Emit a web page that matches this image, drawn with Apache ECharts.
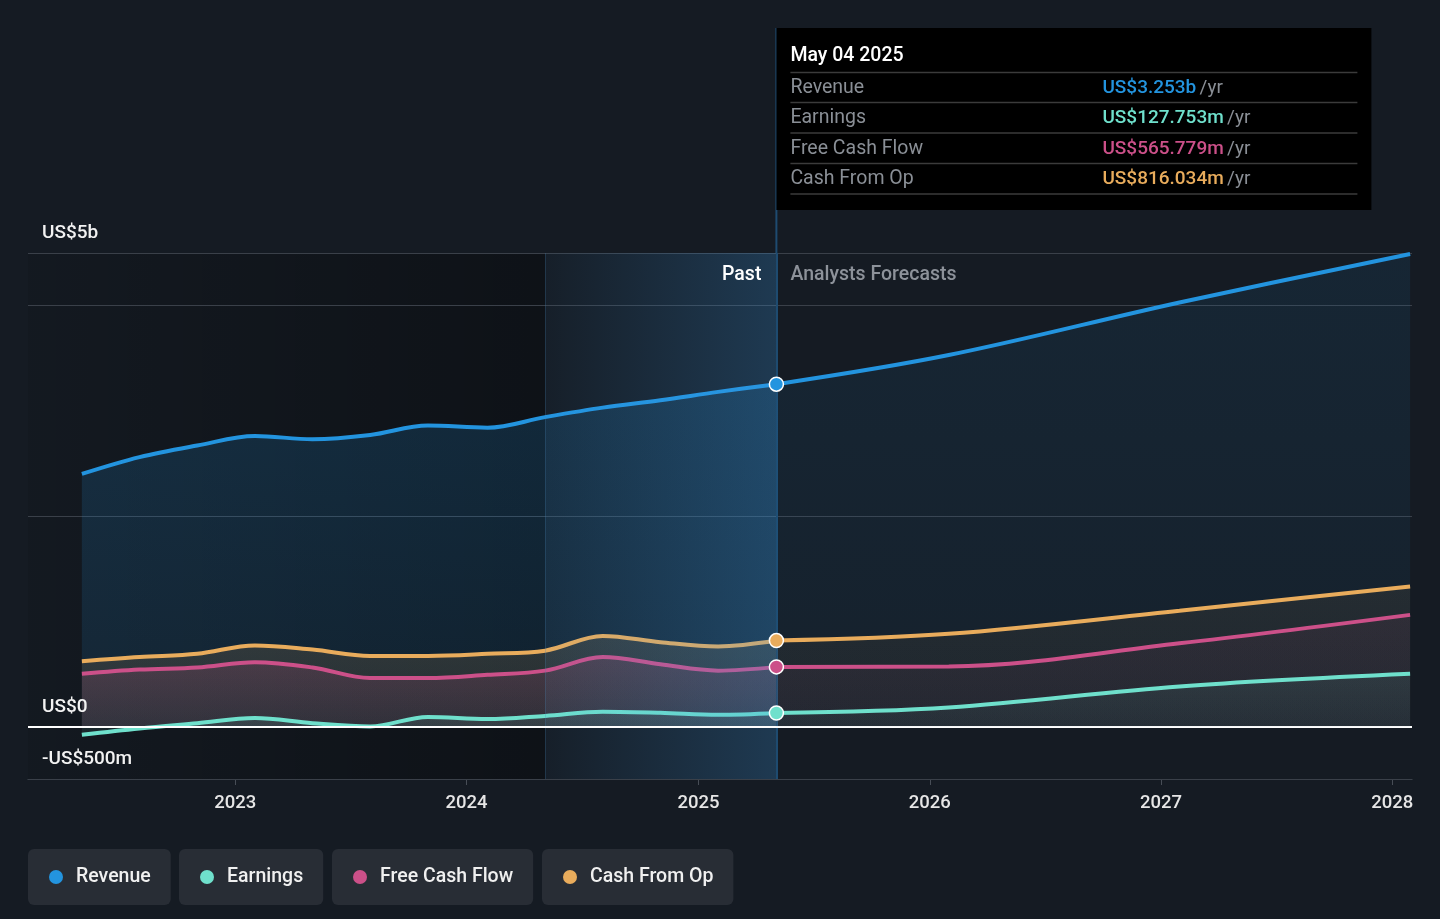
<!DOCTYPE html>
<html>
<head>
<meta charset="utf-8">
<script src="https://cdn.jsdelivr.net/npm/echarts@6/dist/echarts.min.js"></script>
<style>
  html, body { margin: 0; padding: 0; background: #151b23; }
  #chart { width: 1440px; height: 919px; }
</style>
</head>
<body>
<div id="chart"></div>
<script>
// ---------- DATA ----------
const seriesNames = ['Revenue', 'Earnings', 'Free Cash Flow', 'Cash From Op'];
const pastDates = ['2022-05-04','2022-08-03','2022-11-02','2023-02-01','2023-05-03','2023-08-02','2023-11-01','2024-02-03','2024-05-04','2024-08-03','2024-11-02','2025-02-01','2025-05-04'];
const forecastDates = ['2025-05-04','2026-01-31','2027-01-30','2028-01-29'];
const revenuePast  = [2.40, 2.56, 2.67, 2.76, 2.73, 2.77, 2.86, 2.84, 2.94, 3.03, 3.10, 3.18, 3.253];
const earningsPast = [-0.08, -0.02, 0.03, 0.08, 0.03, 0.00, 0.09, 0.07, 0.10, 0.14, 0.13, 0.11, 0.127753];
const fcfPast      = [0.50, 0.54, 0.56, 0.61, 0.56, 0.46, 0.46, 0.49, 0.53, 0.66, 0.59, 0.53, 0.565779];
const cfoPast      = [0.62, 0.66, 0.69, 0.77, 0.73, 0.67, 0.67, 0.69, 0.72, 0.86, 0.80, 0.76, 0.816034];
const revenueForecast  = [3.253, 3.53, 4.03, 4.49];
const earningsForecast = [0.127753, 0.18, 0.38, 0.50];
const fcfForecast      = [0.565779, 0.57, 0.79, 1.06];
const cfoForecast      = [0.816034, 0.88, 1.10, 1.33];
const xTickYears = ['2023','2024','2025','2026','2027','2028'];
const yTickValues = [-0.5, 0, 4.5];
const yTickLabels = ['-US$500m', 'US$0', 'US$5b'];
const yGridValues = [2, 4];
const xMinDate = '2022-02-08';
const xMaxDate = '2028-02-01';
const bandStartDate = '2024-05-04';
const splitDate = '2025-05-04';
const splitLabel = 'May 04 2025';
const Y_MIN = -0.5, Y_MAX = 4.5;

// ---------- STYLE ----------
const colors = { 'Revenue': '#2394df', 'Earnings': '#6fe0cc', 'Free Cash Flow': '#cc5089', 'Cash From Op': '#e9ac5c' };
const rgb = { 'Revenue': '35,148,223', 'Earnings': '111,224,204', 'Free Cash Flow': '204,80,137', 'Cash From Op': '233,172,92' };
const FONT = 'Roboto, "Noto Sans", sans-serif';
const ts = d => Date.UTC(+d.slice(0, 4), +(d.slice(5, 7) || 1) - 1, +(d.slice(8, 10) || 1));

function grad(name, a1, a2) {
  return new echarts.graphic.LinearGradient(0, 0, 0, 1, [
    { offset: 0, color: 'rgba(' + rgb[name] + ',' + a1 + ')' },
    { offset: 1, color: 'rgba(' + rgb[name] + ',' + a2 + ')' }
  ]);
}

const pastAlpha = { 'Revenue': [0.26, 0.16], 'Earnings': [0.16, 0.10], 'Free Cash Flow': [0.26, 0.10], 'Cash From Op': [0.20, 0.12] };
const foreAlpha = { 'Revenue': [0.13, 0.07], 'Earnings': [0.12, 0.06], 'Free Cash Flow': [0.10, 0.05], 'Cash From Op': [0.10, 0.05] };
const pastVals = { 'Revenue': revenuePast, 'Earnings': earningsPast, 'Free Cash Flow': fcfPast, 'Cash From Op': cfoPast };
const foreVals = { 'Revenue': revenueForecast, 'Earnings': earningsForecast, 'Free Cash Flow': fcfForecast, 'Cash From Op': cfoForecast };
const drawOrder = ['Revenue', 'Cash From Op', 'Free Cash Flow', 'Earnings'];

const yLabelStyle = {
  show: true, position: 'insideStartTop', distance: [14, 10],
  color: '#f2f2f2', fontSize: 19, fontWeight: 500, fontFamily: FONT
};

const series = [];
series.push({
  name: '_bg', type: 'line', z: 1, silent: true, symbol: 'none',
  data: [[ts(xMinDate), 0]], lineStyle: { opacity: 0 },
  markArea: {
    silent: true, z: 1,
    itemStyle: {
      color: new echarts.graphic.LinearGradient(0, 0, 1, 0, [
        { offset: 0, color: 'rgba(0,0,0,0.08)' },
        { offset: 1, color: 'rgba(0,0,0,0.34)' }
      ])
    },
    data: [[{ xAxis: ts(xMinDate) }, { xAxis: ts(bandStartDate) }]]
  },
  markLine: {
    silent: true, symbol: 'none', animation: false, z: 1,
    lineStyle: { color: '#3a4049', width: 1, type: 'solid' },
    label: { show: false },
    data: yGridValues.map(v => ({ yAxis: v })).concat(
      yTickValues.filter(v => v !== 0).map(v => ({
        yAxis: v,
        label: Object.assign({}, yLabelStyle, { formatter: yTickLabels[yTickValues.indexOf(v)] })
      }))
    )
  }
});

drawOrder.forEach(name => {
  series.push({
    name: name, type: 'line', z: 2, smooth: 0.35, symbol: 'none', showSymbol: true,
    data: pastDates.map((d, i) => [ts(d), pastVals[name][i]]),
    lineStyle: { color: colors[name], width: 4 },
    itemStyle: { color: colors[name] },
    areaStyle: { color: grad(name, pastAlpha[name][0], pastAlpha[name][1]) },
    emphasis: { disabled: true }
  });
});

series.push({
  name: '_band', type: 'line', z: 3, silent: true, symbol: 'none',
  data: [[ts(xMinDate), 0]], lineStyle: { opacity: 0 },
  markArea: {
    silent: true, z: 3,
    itemStyle: {
      color: new echarts.graphic.LinearGradient(0, 0, 1, 0, [
        { offset: 0, color: 'rgba(60,155,230,0.03)' },
        { offset: 1, color: 'rgba(60,155,230,0.24)' }
      ])
    },
    data: [[{ xAxis: ts(bandStartDate) }, { xAxis: ts(splitDate) }]]
  },
  markLine: {
    silent: true, symbol: 'none', animation: false, z: 3,
    label: { show: false },
    data: [
      { xAxis: ts(bandStartDate), lineStyle: { color: 'rgba(70,130,180,0.25)', width: 1, type: 'solid' } },
      { xAxis: ts(splitDate), lineStyle: { color: '#1e4b70', width: 2, type: 'solid' } },
      {
        yAxis: 0, lineStyle: { color: '#ffffff', width: 2, type: 'solid' },
        label: Object.assign({}, yLabelStyle, { formatter: yTickLabels[yTickValues.indexOf(0)] })
      }
    ]
  }
});

drawOrder.forEach(name => {
  series.push({
    name: name, type: 'line', z: 4, smooth: 0.35, symbol: 'none', showSymbol: true,
    data: forecastDates.map((d, i) => i === 0 ? {
      value: [ts(d), foreVals[name][i]], symbol: 'circle', symbolSize: 14,
      itemStyle: { color: colors[name], borderColor: '#ffffff', borderWidth: 1.5 }
    } : [ts(d), foreVals[name][i]]),
    lineStyle: { color: colors[name], width: 4 },
    itemStyle: { color: colors[name] },
    areaStyle: { color: grad(name, foreAlpha[name][0], foreAlpha[name][1]) },
    emphasis: { disabled: true }
  });
});

const legendLeft = [28, 179, 332, 542];
const legends = seriesNames.map((n, i) => ({
  data: [n], left: legendLeft[i], top: 849, orient: 'horizontal',
  backgroundColor: '#282d35', borderRadius: 6, padding: [18, 20, 18, 21],
  icon: 'circle', itemWidth: 14, itemHeight: 14, itemGap: 0, selectedMode: false,
  textStyle: { color: '#f0f0f0', fontSize: 19.5, fontWeight: 500, fontFamily: FONT, padding: [0, 0, 0, 8] }
}));

const yearTicks = xTickYears.map(y => ts(y + '-01-01'));

const option = {
  backgroundColor: '#151b23',
  animation: false,
  textStyle: { fontFamily: FONT },
  grid: { left: 28, right: 28, top: 253, bottom: 140, containLabel: false },
  legend: legends,
  xAxis: {
    type: 'value', min: ts(xMinDate), max: ts(xMaxDate),
    splitLine: { show: false },
    axisLine: { show: true, onZero: false, lineStyle: { color: '#474d56', width: 1 } },
    axisTick: { show: true, length: 6, customValues: yearTicks, lineStyle: { color: '#474d56' } },
    axisLabel: {
      customValues: yearTicks,
      formatter: v => String(new Date(v).getUTCFullYear()),
      color: '#e6e6e6', fontSize: 18.5, fontWeight: 500, margin: 15, fontFamily: FONT
    }
  },
  yAxis: {
    type: 'value', min: Y_MIN, max: Y_MAX,
    axisLine: { show: false }, axisTick: { show: false },
    axisLabel: { show: false }, splitLine: { show: false }
  },
  series: series
};

const chart = echarts.init(document.getElementById('chart'));
chart.setOption(option);

const xs = chart.convertToPixel({ xAxisIndex: 0 }, ts(splitDate));
const yTop = chart.convertToPixel({ yAxisIndex: 0 }, Y_MAX);

function fmt(v) {
  return v >= 1 ? 'US$' + v.toFixed(3) + 'b' : 'US$' + (v * 1000).toFixed(3) + 'm';
}
const tipNames = ['Revenue', 'Earnings', 'Free Cash Flow', 'Cash From Op'];
const tipTop = 28, tipW = 595, tipH = 182;
const rowY = [88, 118, 149, 179];
const sepY = [72.5, 102.5, 133, 163.5, 194];

const graphics = [
  { type: 'line', z: 0, silent: true,
    shape: { x1: xs, y1: tipTop, x2: xs, y2: yTop },
    style: { stroke: '#1e4b70', lineWidth: 2 } },
  { type: 'text', z: 50, silent: true, x: xs - 15, y: yTop + 22,
    style: { text: 'Past', fill: '#ffffff', font: '500 19.5px ' + FONT, align: 'right', verticalAlign: 'middle' } },
  { type: 'text', z: 50, silent: true, x: xs + 14, y: yTop + 22,
    style: { text: 'Analysts Forecasts', fill: '#8d929a', font: '500 19.5px ' + FONT, align: 'left', verticalAlign: 'middle' } },
  { type: 'rect', z: 60, silent: true, shape: { x: xs, y: tipTop, width: tipW, height: tipH }, style: { fill: '#000000' } },
  { type: 'text', z: 61, silent: true, x: xs + 14, y: 56,
    style: { text: splitLabel, fill: '#ffffff', font: '500 19.5px ' + FONT, align: 'left', verticalAlign: 'middle' } }
];
sepY.forEach(y => graphics.push({
  type: 'line', z: 61, silent: true,
  shape: { x1: xs + 14, y1: y, x2: xs + 581, y2: y },
  style: { stroke: '#3b3b3b', lineWidth: 1.5 }
}));
tipNames.forEach((n, i) => {
  const last = pastVals[n][pastVals[n].length - 1];
  graphics.push({ type: 'text', z: 61, silent: true, x: xs + 14, y: rowY[i],
    style: { text: n, fill: '#8a8f96', font: '19.5px ' + FONT, align: 'left', verticalAlign: 'middle' } });
  graphics.push({ type: 'text', z: 61, silent: true, x: xs + 326, y: rowY[i],
    style: {
      text: '{v|' + fmt(last) + '} {u|/yr}', align: 'left', verticalAlign: 'middle',
      rich: {
        v: { fill: colors[n], font: '500 19px ' + FONT },
        u: { fill: '#8a8f96', font: '19px ' + FONT }
      }
    } });
});
chart.setOption({ graphic: graphics });
</script>
</body>
</html>
